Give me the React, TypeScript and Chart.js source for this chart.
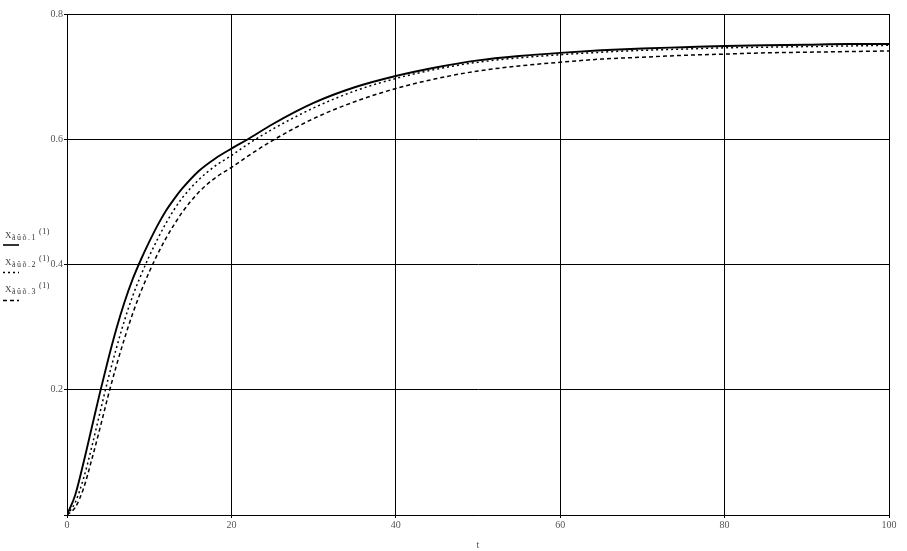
import React, { useEffect, useRef } from "react";
import { Chart, registerables } from "chart.js";

Chart.register(...registerables);

const tValues = [0, 1, 2, 3, 4, 5, 6, 7, 8, 9, 10, 11, 12, 13, 14, 16, 18, 20, 22, 25, 30, 35, 40, 45, 50, 55, 60, 65, 70, 75, 80, 85, 90, 95, 100];
const series1 = [0, 0.032, 0.083, 0.139, 0.195, 0.248, 0.297, 0.34, 0.377, 0.408, 0.436, 0.462, 0.485, 0.504, 0.521, 0.549, 0.569, 0.585, 0.6, 0.624, 0.658, 0.683, 0.701, 0.715, 0.726, 0.733, 0.738, 0.742, 0.745, 0.747, 0.749, 0.75, 0.751, 0.752, 0.752];
const series2 = [0, 0.02, 0.058, 0.108, 0.163, 0.217, 0.266, 0.311, 0.35, 0.383, 0.413, 0.44, 0.465, 0.487, 0.506, 0.535, 0.557, 0.574, 0.592, 0.616, 0.65, 0.677, 0.697, 0.712, 0.723, 0.73, 0.735, 0.739, 0.742, 0.744, 0.746, 0.747, 0.748, 0.749, 0.75];
const series3 = [0, 0.012, 0.042, 0.088, 0.138, 0.19, 0.238, 0.282, 0.322, 0.357, 0.388, 0.416, 0.441, 0.463, 0.483, 0.515, 0.538, 0.555, 0.573, 0.598, 0.633, 0.66, 0.681, 0.697, 0.709, 0.717, 0.723, 0.728, 0.731, 0.734, 0.736, 0.738, 0.739, 0.74, 0.741];
const legendSubs = ["ãûõ.1", "ãûõ.2", "ãûõ.3"];
const xTicks = [0, 20, 40, 60, 80, 100];
const yTicks = [0, 0.2, 0.4, 0.6, 0.8];

const FONT = "'Liberation Serif', 'DejaVu Serif', serif";
const dashes: number[][] = [[], [2, 3], [4, 3]];

const legendPlugin = {
  id: "mathcadLegend",
  afterDraw(chart: any) {
    const ctx = chart.ctx as CanvasRenderingContext2D;
    const baseYs = [238, 265, 292];
    const lineYs = [245, 272.5, 300.5];
    ctx.save();
    legendSubs.forEach((sub, i) => {
      const by = baseYs[i];
      ctx.fillStyle = "#333";
      ctx.textBaseline = "alphabetic";
      ctx.textAlign = "left";
      ctx.font = `9px ${FONT}`;
      (ctx as any).letterSpacing = "0px";
      ctx.fillText("X", 5, by);
      ctx.font = `8px ${FONT}`;
      (ctx as any).letterSpacing = "1.5px";
      ctx.fillText(sub, 12, by + 2);
      (ctx as any).letterSpacing = "0.5px";
      ctx.fillText("(1)", 39, by - 4);
      (ctx as any).letterSpacing = "0px";
      ctx.strokeStyle = "#000";
      ctx.lineWidth = i === 0 ? 1.6 : 1.4;
      ctx.setLineDash(dashes[i]);
      ctx.beginPath();
      ctx.moveTo(3, lineYs[i]);
      ctx.lineTo(19, lineYs[i]);
      ctx.stroke();
    });
    ctx.restore();
  },
};

export default function App() {
  const ref = useRef<HTMLCanvasElement | null>(null);
  useEffect(() => {
    if (!ref.current) return;
    const mk = (vals: number[]) => tValues.map((t, i) => ({ x: t, y: vals[i] }));
    const chart = new Chart(ref.current, {
      type: "line",
      data: {
        datasets: [
          { data: mk(series1), borderColor: "#000", borderWidth: 1.9, borderDash: dashes[0], pointRadius: 0, cubicInterpolationMode: "monotone" },
          { data: mk(series2), borderColor: "#000", borderWidth: 1.5, borderDash: dashes[1], pointRadius: 0, cubicInterpolationMode: "monotone" },
          { data: mk(series3), borderColor: "#000", borderWidth: 1.5, borderDash: dashes[2], pointRadius: 0, cubicInterpolationMode: "monotone" },
        ] as any,
      },
      options: {
        animation: false,
        responsive: false,
        events: [],
        layout: { padding: { left: 0, right: 18, top: 14, bottom: 0 } },
        plugins: { legend: { display: false }, tooltip: { enabled: false } },
        scales: {
          x: {
            type: "linear",
            min: 0,
            max: 100,
            afterBuildTicks: (s: any) => { s.ticks = xTicks.map((v) => ({ value: v })); },
            afterFit: (s: any) => { s.height = 36; },
            grid: { color: "#000", lineWidth: 1, tickLength: 3 },
            border: { color: "#000", width: 1 },
            ticks: { color: "#555", font: { family: FONT, size: 10 }, padding: 1, maxRotation: 0 },
            title: { display: true, text: "t", color: "#555", font: { family: FONT, size: 10 }, padding: { top: 4, bottom: 0 } },
          },
          y: {
            type: "linear",
            min: 0,
            max: 0.8,
            afterBuildTicks: (s: any) => { s.ticks = yTicks.map((v) => ({ value: v })); },
            afterFit: (s: any) => { s.width = 67; },
            grid: { color: "#000", lineWidth: 1, tickLength: 3 },
            border: { color: "#000", width: 1 },
            ticks: {
              color: "#555",
              font: { family: FONT, size: 10 },
              padding: 1,
              callback: (v: any) => (Number(v) === 0 ? "" : Number(v).toFixed(1)),
            },
          },
        },
      },
      plugins: [legendPlugin],
    });
    return () => chart.destroy();
  }, []);
  return (
    <div style={{ position: "fixed", left: 0, top: 0, width: 907, height: 551, background: "#fff" }}>
      <canvas ref={ref} width={907} height={551} style={{ width: 907, height: 551, display: "block" }} />
    </div>
  );
}
